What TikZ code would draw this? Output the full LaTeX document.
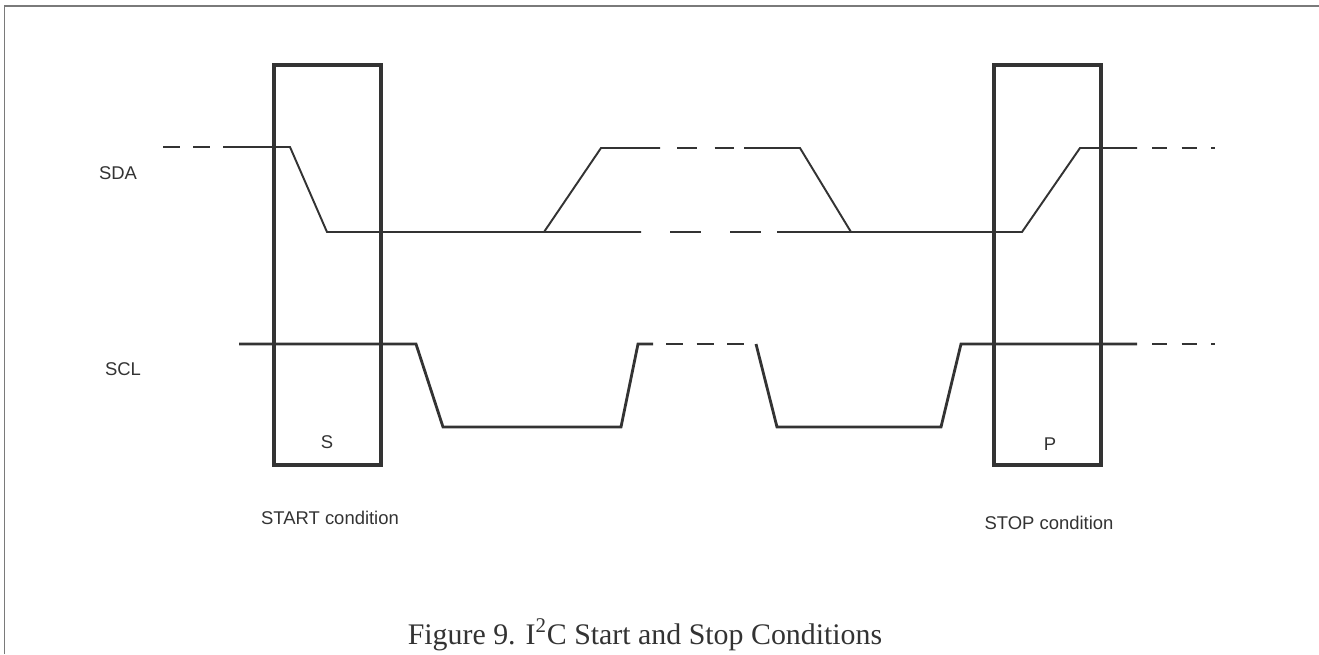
\documentclass[tikz,border=0pt]{standalone}
\usepackage{fontspec}
\setmainfont{Liberation Serif}
\setsansfont{Liberation Sans}
\usepackage{xcolor}
\definecolor{ink}{HTML}{333333}
\definecolor{framegray}{HTML}{7A7A7A}

\begin{document}
\begin{tikzpicture}[x=0.2mm, y=-0.2mm, line join=miter,
    sig/.style={draw=ink, line width=1.1pt},
    clk/.style={draw=ink, line width=1.6pt},
    condbox/.style={draw=ink, line width=1.9pt},
    lbl/.style={font=\sffamily\fontsize{10.5}{12}\selectfont, text=ink, inner sep=0pt}]
  \useasboundingbox (0,0) rectangle (1319,654);

  % Outer frame (only left and top edges are visible)
  \draw[framegray, line width=1pt] (4.5,654) -- (4.5,6) -- (1319,6);

  % Start and stop condition boxes
  \draw[condbox] (274,65) rectangle (381,465);
  \draw[condbox] (994,65) rectangle (1101,465);

  % SDA line
  \draw[sig, dash pattern=on 3.4mm off 2.6mm] (163,147) -- (212,147);
  \draw[sig] (223,147) -- (290,147) -- (327,232) -- (641,232);
  \draw[sig] (544,232) -- (601,148) -- (660,148);
  \draw[sig, dash pattern=on 3.9mm off 3.6mm] (677,148) -- (734,148);
  \draw[sig] (744,148) -- (800,148) -- (851,232);
  \draw[sig, dash pattern=on 6.2mm off 5.8mm] (670,232) -- (761,232);
  \draw[sig] (777,232) -- (1022,232) -- (1080,148) -- (1137,148);
  \draw[sig, dash pattern=on 3mm off 2.9mm] (1152,148) -- (1215,148);

  % SCL line
  \draw[clk] (239,344) -- (416,344) -- (443,427) -- (621,427) -- (638,344) -- (653,344);
  \draw[clk, dash pattern=on 3.4mm off 2.7mm] (666,344) -- (744,344);
  \draw[clk] (756,344) -- (777,427) -- (941,427) -- (961,344) -- (1137,344);
  \draw[clk, dash pattern=on 3mm off 2.9mm] (1152,344) -- (1215,344);

  % Labels
  \node[lbl] (sda) at (118,173) {SDA};
  \node[lbl] (scl) at (123,369) {SCL};
  \node[lbl] (s) at (327,442) {S};
  \node[lbl] (p) at (1050,444) {P};
  \node[lbl] (start) at (330,518) {START condition};
  \node[lbl] (stop) at (1049,523) {STOP condition};

  \node[anchor=base, inner sep=0pt, text=ink, font=\fontsize{17}{19}\selectfont]
    (caption) at (645,644) {Figure 9. I\textsuperscript{2}C Start and Stop Conditions};
\end{tikzpicture}
\end{document}
